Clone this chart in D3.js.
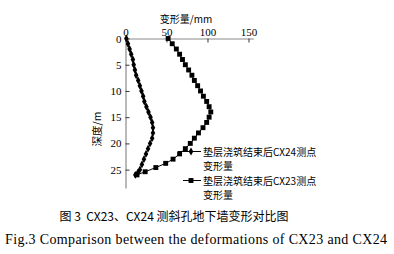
<!DOCTYPE html>
<html><head><meta charset="utf-8">
<script src="https://cdn.jsdelivr.net/npm/d3@7"></script>
<style>
html,body{margin:0;padding:0;background:#fff;}
svg{display:block;}
</style></head>
<body>
<svg id="c" width="394" height="254"></svg>
<script>
// ---- data ----
const xTicks = [0, 50, 100, 150];
const yTicks = [0, 5, 10, 15, 20, 25];
const xTitle = "变形量/mm";
const yTitle = "深度/m";
const seriesNames = ["垫层浇筑结束后CX24测点", "垫层浇筑结束后CX23测点"];
const seriesNames2 = ["变形量", "变形量"];
const depthCX24 = [0,1,2,3,4,5,6,7,8,9,10,11,12,13,14,15,16,17,18,19,20,21,22,23,24,25,25.6,26];
const valueCX24 = [1,3,5,7,9,10,11.5,13,15.5,17.5,19.5,21.5,23,25.5,28,30.5,32.5,33.5,33.5,32.5,30,27.5,25,22.5,20,17.5,15,12];
const depthCX23 = [0,1,2,3,4,5,6,7,8,9,10,11,12,13,14,15,16,17,18,19,20,21,22,23,23.8,24.6,25.4,26];
const valueCX23 = [52,57,62,66,69.5,73,77,81,84,88,91.5,95,99,102,104,102,99,94.5,89,84,79,73,66,58,49,37,24,14];
const captionCN = "图 3  CX23、CX24 测斜孔地下墙变形对比图";
const captionEN = "Fig.3 Comparison between the deformations of CX23 and CX24";

const svg = d3.select("#c");
const x = d3.scaleLinear().domain([0, 156]).range([125.5, 253.4]);
const y = d3.scaleLinear().domain([0, 28.5]).range([38.5, 188]);

const serif = "'Liberation Serif','Times New Roman',serif";
const cjk = "'Noto Sans CJK SC','Noto Sans CJK JP',sans-serif";

// axes
const gx = svg.append("g").attr("transform", `translate(0,${y(0)})`)
  .call(d3.axisTop(x).tickValues(xTicks).tickSizeInner(-4).tickSizeOuter(0).tickPadding(3));
const gy = svg.append("g").attr("transform", `translate(${x(0)},0)`)
  .call(d3.axisLeft(y).tickValues(yTicks).tickSizeInner(-4).tickSizeOuter(0).tickPadding(4));
[gx, gy].forEach(g => {
  g.select(".domain").attr("stroke", "#8a8a8a").attr("stroke-width", 1.2);
  g.selectAll(".tick line").attr("stroke", "#333");
  g.selectAll(".tick text").attr("font-family", serif).attr("font-size", 11).attr("fill", "#000");
});

// axis titles
svg.append("text").attr("x", 186).attr("y", 22.5).attr("text-anchor", "middle")
  .attr("font-family", cjk).attr("font-size", 10).attr("fill", "#000").text(xTitle);
svg.append("text").attr("transform", "translate(101,129) rotate(-90)").attr("text-anchor", "middle")
  .attr("font-family", cjk).attr("font-size", 10.5).attr("fill", "#000").text(yTitle);

// series
const d24 = depthCX24.map((d, i) => ({d, v: valueCX24[i]}));
const d23 = depthCX23.map((d, i) => ({d, v: valueCX23[i]}));
const line = d3.line().x(p => x(p.v)).y(p => y(p.d));
svg.append("path").datum(d23).attr("d", line).attr("fill", "none").attr("stroke", "#000").attr("stroke-width", 1);
svg.append("path").datum(d24).attr("d", line).attr("fill", "none").attr("stroke", "#000").attr("stroke-width", 1);
const diamond = d3.symbol().type(d3.symbolDiamond).size(18);
const square = d3.symbol().type(d3.symbolSquare).size(24);
svg.append("g").selectAll("path").data(d23).join("path")
  .attr("transform", p => `translate(${x(p.v)},${y(p.d)})`).attr("d", square).attr("fill", "#000");
svg.append("g").selectAll("path").data(d24).join("path")
  .attr("transform", p => `translate(${x(p.v)},${y(p.d)})`).attr("d", diamond).attr("fill", "#000");

// legend (each entry one wrapped text)
const leg = [{y: 151.5, sym: diamond, x1: 178}, {y: 180.5, sym: square, x1: 183}];
leg.forEach((l, i) => {
  svg.append("line").attr("x1", l.x1).attr("x2", 201).attr("y1", l.y).attr("y2", l.y).attr("stroke", "#000");
  svg.append("path").attr("transform", `translate(191,${l.y})`).attr("d", l.sym).attr("fill", "#000");
  const t = svg.append("text").attr("x", 203).attr("y", l.y + 4).attr("font-family", cjk).attr("font-size", 10)
    .attr("fill", "#000");
  t.append("tspan").attr("x", 203).text(seriesNames[i]);
  t.append("tspan").attr("x", 203).attr("dy", 14.6).text(seriesNames2[i]);
});

// captions
svg.append("text").attr("x", 174).attr("y", 220.5).attr("text-anchor", "middle")
  .attr("font-family", cjk).attr("font-size", 12).attr("fill", "#000")
  .style("white-space", "pre").text(captionCN);
svg.append("text").attr("x", 196).attr("y", 243.5).attr("text-anchor", "middle")
  .attr("font-family", serif).attr("font-size", 14).attr("textLength", 382).attr("lengthAdjust", "spacing")
  .attr("fill", "#000").text(captionEN);
</script>
</body></html>
